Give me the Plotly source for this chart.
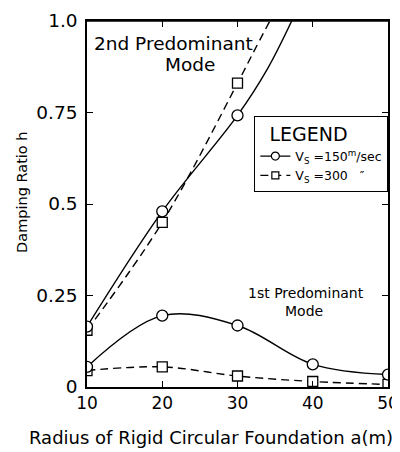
import plotly.graph_objects as go

# Radius of rigid circular foundation a (m)
radius = [10, 20, 30, 40, 50]
radius_2nd = [10, 20, 30]

# 2nd predominant mode (damping ratio h)
h2_vs150 = [0.165, 0.48, 0.742]
h2_vs300 = [0.155, 0.45, 0.83]
# curve continuation above the last marker (up to h=1.0)
ext2_x_vs150 = [34, 37.2]
ext2_h_vs150 = [0.87, 1.0]
ext2_x_vs300 = [32, 34.3]
ext2_h_vs300 = [0.91, 1.0]

# 1st predominant mode
h1_vs150 = [0.055, 0.195, 0.168, 0.062, 0.034]
h1_vs300 = [0.045, 0.055, 0.03, 0.015, 0.007]

x_ticks = [10, 20, 30, 40, 50]
y_ticks = [0, 0.25, 0.5, 0.75, 1.0]
y_ticklabels = ["0", "0.25", "0.5", "0.75", "1.0"]

FONT = "DejaVu Sans"
circle = dict(symbol="circle", size=11)
square = dict(symbol="square", size=10)
solid = dict(color="black", width=1.4, shape="spline", smoothing=1.0)
dashed = dict(color="black", width=1.4, shape="spline", smoothing=1.0, dash="8px,5px")

fig = go.Figure()


def add_series(x, y, line, marker, ext_x=None, ext_y=None):
    lx = list(x) + (list(ext_x) if ext_x else [])
    ly = list(y) + (list(ext_y) if ext_y else [])
    fig.add_trace(go.Scatter(x=lx, y=ly, mode="lines", line=line, showlegend=False, hoverinfo="skip"))
    fig.add_trace(go.Scatter(x=x, y=y, mode="markers",
                             marker=dict(symbol=marker["symbol"], size=marker["size"],
                                         color="white", line=dict(width=1.3, color="black")),
                             showlegend=False))


def add_legend(name, line, marker):
    fig.add_trace(go.Scatter(x=[None], y=[None], mode="lines+markers",
                             line=dict(color="black", width=1.2, dash=line.get("dash", "solid")),
                             marker=dict(symbol=marker["symbol"], size=marker["size"] - 3, color="white",
                                         line=dict(width=1.2, color="black")),
                             name=name, showlegend=True))


add_series(radius_2nd, h2_vs300, dashed, square, ext2_x_vs300, ext2_h_vs300)
add_series(radius_2nd, h2_vs150, solid, circle, ext2_x_vs150, ext2_h_vs150)
add_series(radius, h1_vs300, dashed, square)
add_series(radius, h1_vs150, solid, circle)
add_legend("V<sub>S</sub> =150<sup>m</sup>/sec", solid, circle)
add_legend("V<sub>S</sub> =300   ″", dashed, square)

axis_common = dict(ticks="inside", ticklen=6, automargin=False, ticklabeloverflow="allow",
                   showline=True, linecolor="black", linewidth=1.5, mirror="ticks",
                   showgrid=False, zeroline=False, tickcolor="black", tickwidth=1.2)

# the page body adds an 8px offset, so margins are shifted by 8px
fig.update_layout(
    width=400, height=452,
    margin=dict(l=79, r=20, t=13, b=73, autoexpand=False),
    paper_bgcolor="white", plot_bgcolor="white",
    font=dict(family=FONT, color="black"),
    showlegend=True,
    legend=dict(
        x=0.556, y=0.741, xanchor="left", yanchor="top",
        bordercolor="black", borderwidth=1, bgcolor="white",
        title=dict(text="  LEGEND", font=dict(size=19, family=FONT)),
        font=dict(size=12.5, family=FONT),
        itemwidth=30, tracegroupgap=0,
    ),
    xaxis=dict(range=[10, 50], tickvals=x_ticks, tickfont=dict(size=17, family=FONT), **axis_common),
    yaxis=dict(range=[0, 1.0], tickvals=y_ticks, ticktext=y_ticklabels, ticklabelstandoff=4,
               tickfont=dict(size=18.5, family=FONT), **axis_common),
    shapes=[dict(type="line", xref="paper", yref="paper", x0=0, y0=1, x1=1, y1=1,
                 line=dict(color="black", width=1.5), layer="above")],
    annotations=[
        dict(text="Radius of Rigid Circular Foundation a(m)", xref="paper", yref="paper",
             x=0.412, y=-0.139, showarrow=False, font=dict(size=18), xanchor="center", yanchor="middle"),
        dict(text="Damping Ratio h", xref="paper", yref="paper", textangle=-90,
             x=-0.216, y=0.533, showarrow=False, font=dict(size=14.5), xanchor="center", yanchor="middle"),
        dict(text="2nd Predominant", xref="paper", yref="paper", x=0.015, y=0.938,
             showarrow=False, font=dict(size=18.5), xanchor="left", yanchor="middle"),
        dict(text="Mode", xref="paper", yref="paper", x=0.342, y=0.882,
             showarrow=False, font=dict(size=18.5), xanchor="center", yanchor="middle"),
        dict(text="1st Predominant", xref="paper", yref="paper", x=0.728, y=0.258,
             showarrow=False, font=dict(size=14), xanchor="center", yanchor="middle"),
        dict(text="Mode", xref="paper", yref="paper", x=0.72, y=0.207,
             showarrow=False, font=dict(size=14), xanchor="center", yanchor="middle"),
    ],
)

fig.write_html("out.html", config={"displayModeBar": False})
